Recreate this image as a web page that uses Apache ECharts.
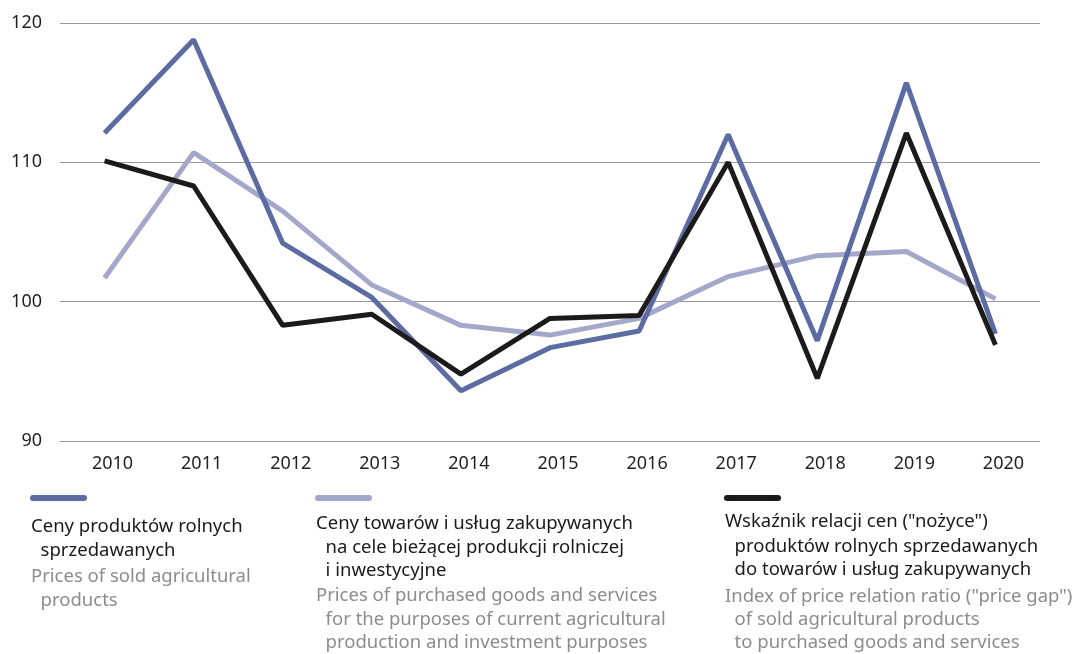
<!DOCTYPE html>
<html>
<head>
<meta charset="utf-8">
<script src="https://cdn.jsdelivr.net/npm/echarts@6/dist/echarts.min.js"></script>
<style>
html,body{margin:0;padding:0;background:#fff;}
#chart{width:1079px;height:654px;}
</style>
</head>
<body>
<div id="chart"></div>
<script>
var years = ['2010','2011','2012','2013','2014','2015','2016','2017','2018','2019','2020'];
var soldPrices = [112.1,118.8,104.2,100.3,93.6,96.7,97.9,112.0,97.2,115.7,97.7];
var purchasedPrices = [101.7,110.7,106.5,101.2,98.3,97.6,98.8,101.8,103.3,103.6,100.2];
var priceGap = [110.1,108.3,98.3,99.1,94.8,98.8,99.0,110.0,94.5,112.1,96.9];
var yTicks = [90,100,110,120];

var seriesNames = ['Ceny produktów rolnych sprzedawanych','Ceny towarów i usług zakupywanych','Wskaźnik relacji cen'];
var colors = ['#5c6ba2','#a3a8cb','#1c1a1b'];

// legend texts: polish lines then english lines
var legendPl = [
  ['Ceny produktów rolnych', ' sprzedawanych'],
  ['Ceny towarów i usług zakupywanych', ' na cele bieżącej produkcji rolniczej', ' i inwestycyjne'],
  ['Wskaźnik relacji cen ("nożyce")', ' produktów rolnych sprzedawanych', ' do towarów i usług zakupywanych']
];
var legendEn = [
  ['Prices of sold agricultural', ' products'],
  ['Prices of purchased goods and services', ' for the purposes of current agricultural', ' production and investment purposes'],
  ['Index of price relation ratio ("price gap")', ' of sold agricultural products', ' to purchased goods and services']
];

var chart = echarts.init(document.getElementById('chart'));
var font = 'Noto Sans';

var legendX = [30, 315, 724];
var plY = [[527,551],[524,548,571],[522,547,570]];
var enY = [[577,601],[596,620,643],[597,620,643]];
var graphic = [];
legendX.forEach(function(x, i){
  graphic.push({
    type:'line', shape:{x1:x+3,y1:498,x2:x+54,y2:498},
    style:{stroke:colors[i], lineWidth:6, lineCap:'round'}
  });
  legendPl[i].forEach(function(t, k){
    graphic.push({type:'text', x:x+1, y:plY[i][k],
      style:{text:t.replace(/^ /,'  '), font:'18.5px "'+font+'"', fill:'#1a1a1a', verticalAlign:'middle'}});
  });
  legendEn[i].forEach(function(t, k){
    graphic.push({type:'text', x:x+1, y:enY[i][k],
      style:{text:t.replace(/^ /,'  '), font:'18.5px "'+font+'"', fill:'#8c8c8c', verticalAlign:'middle'}});
  });
});

var option = {
  animation:false,
  grid:{left:60, right:39, top:23, bottom:654-441},
  xAxis:{
    type:'category',
    data:years,
    boundaryGap:true,
    axisLine:{show:false},
    axisTick:{show:false},
    axisLabel:{color:'#231f20', fontSize:18, fontFamily:font, margin:14, padding:[0,0,0,16]}
  },
  yAxis:{
    type:'value',
    min:yTicks[0], max:yTicks[yTicks.length-1], interval:10,
    axisLine:{show:false},
    axisTick:{show:false},
    axisLabel:{color:'#231f20', fontSize:18, fontFamily:font, margin:18},
    splitLine:{lineStyle:{color:'#9a9a9a', width:1}}
  },
  series:[
    {name:seriesNames[0], type:'line', data:soldPrices, symbol:'none', lineStyle:{color:colors[0], width:5}, z:3},
    {name:seriesNames[1], type:'line', data:purchasedPrices, symbol:'none', lineStyle:{color:colors[1], width:5}, z:2},
    {name:seriesNames[2], type:'line', data:priceGap, symbol:'none', lineStyle:{color:colors[2], width:5}, z:4}
  ],
  graphic:graphic
};
chart.setOption(option);
</script>
</body>
</html>
